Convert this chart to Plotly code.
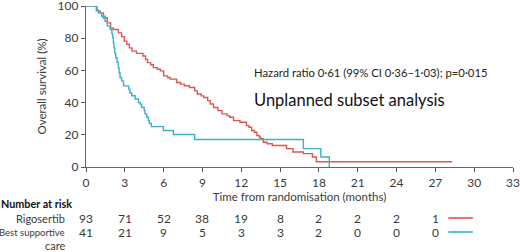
import plotly.graph_objects as go

# Rigosertib KM steps (months, % surviving)
rig_t = [0, 0.8, 1.1, 1.35, 1.65, 1.9, 2.1, 2.5, 2.75, 2.95, 3.15, 3.35, 3.55, 3.9, 4.4, 4.6, 4.75, 5.0, 5.2, 5.5, 5.75, 6.0, 6.3, 6.5, 7.0, 7.3, 7.6, 8.0, 8.4, 8.6, 8.9, 9.1, 9.4, 9.6, 9.85, 10.2, 10.5, 10.9, 11.1, 11.4, 11.9, 12.4, 12.6, 12.8, 13.0, 13.2, 13.4, 13.5, 13.7, 14.0, 14.4, 15.5, 16.0, 16.8, 17.5, 17.8, 28.3]
rig_s = [100, 97, 95.7, 92.5, 89.5, 86.4, 85.4, 83.3, 81, 78.2, 76.2, 74, 72, 70.6, 68.9, 66.8, 64.8, 63.5, 61.7, 60.7, 59.7, 56.6, 55.6, 54.6, 52.5, 51.5, 50.5, 49.4, 47.3, 45.3, 44.2, 43.2, 41.2, 39.1, 37, 35, 33, 31.9, 30.9, 28.8, 27.8, 25.7, 24.7, 22.7, 21.6, 19.6, 18.5, 17.5, 15.4, 14.4, 13.4, 11.4, 9.3, 8.3, 6.2, 3.3, 3.3]

# Best supportive care KM steps
bsc_t = [0, 0.85, 0.95, 1.2, 1.47, 1.65, 1.86, 2.0, 2.06, 2.12, 2.16, 2.22, 2.3, 2.4, 2.5, 2.56, 2.63, 2.75, 2.9, 3.29, 3.4, 3.53, 3.8, 4.05, 4.2, 4.3, 4.5, 4.56, 4.7, 4.82, 4.9, 5.05, 5.98, 6.75, 8.4, 16.8, 18.15, 18.8]
bsc_s = [100, 97.6, 95.7, 93.6, 90.5, 87.5, 85.4, 82.9, 80.2, 77, 74, 70.7, 67.9, 65, 61.7, 58.5, 55.6, 53.5, 50.4, 48.4, 46, 44.3, 42.2, 40.1, 39, 37, 35, 33, 30.9, 28.8, 27, 25.1, 22.7, 20.2, 17.1, 11.4, 6.2, 0]

risk_times = [0, 3, 6, 9, 12, 15, 18, 21, 24, 27]
risk_rig = [93, 71, 52, 38, 19, 8, 2, 2, 2, 1]
risk_bsc = [41, 21, 9, 5, 3, 3, 2, 0, 0, 0]

x_ticks = [0, 3, 6, 9, 12, 15, 18, 21, 24, 27, 30, 33]
y_ticks = [0, 20, 40, 60, 80, 100]

RED = "#e0564d"
BLUE = "#3ab2c9"
FONT = "Lato"
TXT = "#3a3a3a"

fig = go.Figure()
fig.add_trace(go.Scatter(x=rig_t, y=rig_s, mode="lines", line=dict(color=RED, width=1.4, shape="hv"), showlegend=False))
fig.add_trace(go.Scatter(x=bsc_t, y=bsc_s, mode="lines", line=dict(color=BLUE, width=1.4, shape="hv"), showlegend=False))

fig.update_layout(
    width=520, height=252,
    margin=dict(l=86, r=7, t=6, b=85, autoexpand=False),
    plot_bgcolor="white", paper_bgcolor="white",
    font=dict(family=FONT, color=TXT, size=11),
    xaxis=dict(range=[0, 33], tickvals=x_ticks, ticks="outside", ticklen=4, tickcolor="#555",
               showline=True, linecolor="#666", linewidth=1.3, showgrid=False, zeroline=False,
               automargin=False, ticklabeloverflow="allow", tickfont=dict(size=12, color=TXT),
               title=dict(text="Time from randomisation (months)", font=dict(size=11.5, color=TXT), standoff=2)),
    yaxis=dict(range=[0, 100], tickvals=y_ticks, ticks="outside", ticklen=4, tickcolor="#555",
               showline=True, linecolor="#666", linewidth=1.3, showgrid=False, zeroline=False,
               automargin=False, ticklabeloverflow="allow", tickfont=dict(size=12, color=TXT),
               title=dict(text="Overall survival (%)", font=dict(size=11.5, color=TXT), standoff=8)),
)

# text annotations
fig.add_annotation(x=12.8, y=59, xref="x", yref="y", xanchor="left", yanchor="middle",
                   text="Hazard ratio 0·61 (99% CI 0·36–1·03); p=0·015", showarrow=False,
                   font=dict(size=11.3, color="#222"))
fig.add_annotation(x=12.8, y=41.5, xref="x", yref="y", xanchor="left", yanchor="middle",
                   text="Unplanned subset analysis", showarrow=False,
                   font=dict(size=16.5, color="#111"))

# number at risk table
def py(pix):
    # convert figure pixel y to paper coordinate (plot area spans 6..167)
    return (167 - pix) / 161.0

fig.add_annotation(x=0, y=py(203), xref="paper", yref="paper", xanchor="left", yanchor="middle",
                   xshift=-87, text="<b>Number at risk</b>", showarrow=False,
                   font=dict(size=10.8, color="#111"))
fig.add_annotation(x=0, y=py(218), xref="paper", yref="paper", xanchor="right", yanchor="middle",
                   xshift=-19, text="Rigosertib", showarrow=False, font=dict(size=11, color=TXT))
fig.add_annotation(x=0, y=py(232), xref="paper", yref="paper", xanchor="right", yanchor="middle",
                   xshift=-19, text="Best supportive", showarrow=False, font=dict(size=9.5, color=TXT))
fig.add_annotation(x=0, y=py(245.5), xref="paper", yref="paper", xanchor="right", yanchor="middle",
                   xshift=-19, text="care", showarrow=False, font=dict(size=11, color=TXT))

for t, a, b in zip(risk_times, risk_rig, risk_bsc):
    fig.add_annotation(x=t, y=py(218), xref="x", yref="paper", xanchor="center", yanchor="middle",
                       text=str(a), showarrow=False, font=dict(size=12, color=TXT))
    fig.add_annotation(x=t, y=py(232), xref="x", yref="paper", xanchor="center", yanchor="middle",
                       text=str(b), showarrow=False, font=dict(size=12, color=TXT))

fig.add_shape(type="line", xref="x", yref="paper", x0=28.0, x1=29.9, y0=py(218), y1=py(218),
              line=dict(color=RED, width=1.6))
fig.add_shape(type="line", xref="x", yref="paper", x0=28.0, x1=29.9, y0=py(232), y1=py(232),
              line=dict(color=BLUE, width=1.6))

fig.write_html("out.html", config={"displayModeBar": False},
               post_script="document.body.style.margin='0px';document.body.style.padding='0px';")
